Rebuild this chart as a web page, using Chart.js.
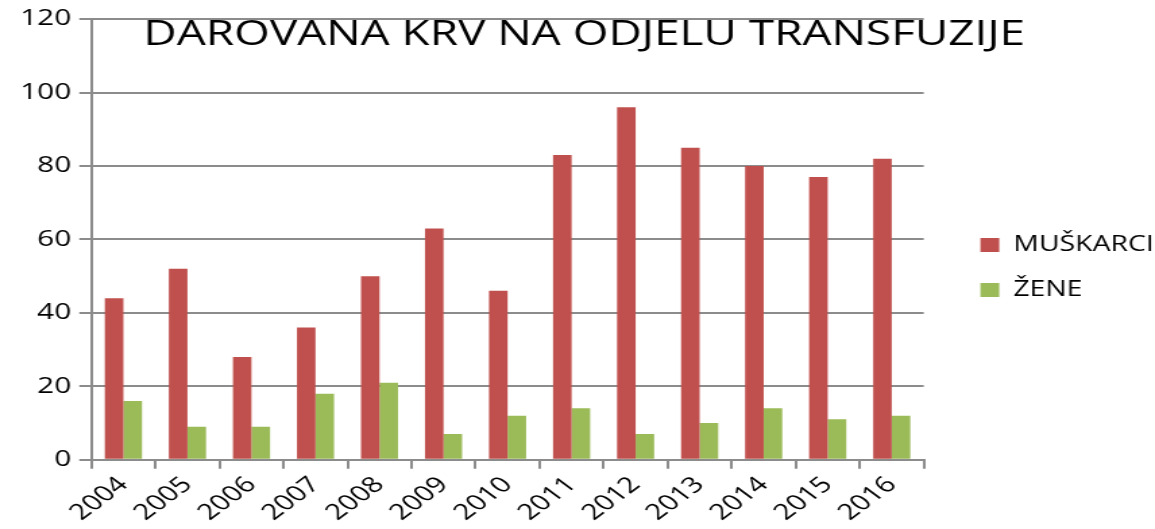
<!DOCTYPE html>
<html>
<head>
<meta charset="utf-8">
<script src="https://cdn.jsdelivr.net/npm/chart.js@4.4.1/dist/chart.umd.min.js"></script>
<style>
  html, body { margin: 0; padding: 0; background: #fff; overflow: hidden; }
  #wrap { width: 1155px; height: 529px; }
  /* the original picture is stretched sideways, so the canvas is too */
  #myChart { transform: scaleX(1.3493); transform-origin: 0 0; }
</style>
</head>
<body>
<div id="wrap"><canvas id="myChart" width="856" height="529"></canvas></div>
<script>
const years = ["2004", "2005", "2006", "2007", "2008", "2009", "2010", "2011", "2012", "2013", "2014", "2015", "2016"];
const muskarci = [44, 52, 28, 36, 50, 63, 46, 83, 96, 85, 80, 77, 82];
const zene = [16, 9, 9, 18, 21, 7, 12, 14, 7, 10, 14, 11, 12];
const yTicks = [0, 20, 40, 60, 80, 100, 120];
const chartTitle = "DAROVANA KRV NA ODJELU TRANSFUZIJE";

const fontName = "'Open Sans', sans-serif";
const gridGrey = "#8c8c8c";

// title sits inside the plot area, so draw it ourselves
const innerTitle = {
    id: "innerTitle",
    afterDraw(chart) {
        const ctx = chart.ctx;
        ctx.save();
        ctx.font = "34px " + fontName;
        ctx.fillStyle = "#000";
        ctx.textAlign = "center";
        ctx.textBaseline = "middle";
        ctx.fillText(chartTitle, 433, 35);
        ctx.restore();
    }
};

// legend stands a bit further from the plot than chart.js puts it
const legendNudge = {
    id: "legendNudge",
    afterLayout(chart) {
        const lg = chart.legend;
        lg.left += 18;
        lg.right += 18;
    }
};

const data = {
    labels: years,
    datasets: [{
        label: "MUŠKARCI",
        backgroundColor: "#C0504D",
        data: muskarci,
    }, {
        label: "ŽENE",
        backgroundColor: "#9BBB59",
        data: zene,
    }],
};

const config = {
    type: "bar",
    data: data,
    options: {
        responsive: false,
        animation: false,
        layout: { padding: { top: 6, right: 9, left: 9, bottom: 0 } },
        datasets: {
            bar: { categoryPercentage: 0.58, barPercentage: 1.0 }
        },
        plugins: {
            legend: {
                position: "right",
                align: "center",
                labels: {
                    font: { family: fontName, size: 21 },
                    color: "#000",
                    boxWidth: 14,
                    boxHeight: 14,
                    padding: 24,
                }
            },
            tooltip: { enabled: false }
        },
        scales: {
            x: {
                offset: true,
                grid: {
                    offset: true,
                    drawOnChartArea: false,
                    drawTicks: true,
                    tickLength: 9,
                    color: gridGrey,
                    lineWidth: 2,
                },
                border: { color: gridGrey, width: 2 },
                ticks: {
                    font: { family: fontName, size: 22 },
                    color: "#000",
                    maxRotation: 45,
                    minRotation: 45,
                    padding: 3,
                }
            },
            y: {
                min: yTicks[0],
                max: yTicks[yTicks.length - 1],
                afterBuildTicks: axis => { axis.ticks = yTicks.map(v => ({ value: v })); },
                grid: {
                    color: gridGrey,
                    lineWidth: 2,
                    tickLength: 9,
                },
                border: { color: gridGrey, width: 2 },
                ticks: {
                    font: { family: fontName, size: 22 },
                    color: "#000",
                    padding: 6,
                }
            }
        }
    },
    plugins: [innerTitle, legendNudge]
};

const myChart = new Chart(document.getElementById("myChart"), config);
</script>
</body>
</html>
